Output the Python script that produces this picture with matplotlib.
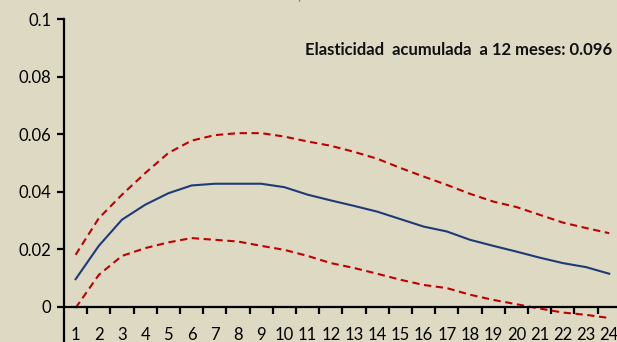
import matplotlib
matplotlib.use("Agg")
import matplotlib.pyplot as plt
import numpy as np

months = list(range(1, 25))
central = [0.0095, 0.0211, 0.0302, 0.0354, 0.0394, 0.0421, 0.0427, 0.0427, 0.0427, 0.0415,
           0.0389, 0.0369, 0.0350, 0.0330, 0.0304, 0.0278, 0.0261, 0.0232, 0.0211, 0.0191,
           0.0170, 0.0151, 0.0137, 0.0114]
upper = [0.0180, 0.0307, 0.0389, 0.0464, 0.0534, 0.0577, 0.0596, 0.0603, 0.0603, 0.0591,
         0.0574, 0.0559, 0.0538, 0.0514, 0.0482, 0.0452, 0.0423, 0.0392, 0.0365, 0.0346,
         0.0319, 0.0292, 0.0273, 0.0255]
lower = [-0.0005, 0.0110, 0.0176, 0.0203, 0.0223, 0.0238, 0.0232, 0.0226, 0.0211, 0.0197,
         0.0176, 0.0151, 0.0134, 0.0114, 0.0093, 0.0075, 0.0064, 0.0041, 0.0023, 0.0008,
         -0.0007, -0.0021, -0.0029, -0.0040]
yticks = [0, 0.02, 0.04, 0.06, 0.08, 0.1]
ytick_labels = ["0", "0.02", "0.04", "0.06", "0.08", "0.1"]
annotation = "Elasticidad  acumulada  a 12 meses: 0.096"

bg = "#DDD9C3"
plt.rcParams['font.family'] = ['Lato', 'DejaVu Sans']

fig = plt.figure(figsize=(6.17, 3.42), dpi=100, facecolor=bg)
W, H = 617, 342
left_px = 64
cat_w = 23.2
y_top_px = 19
px_per_unit = 57.5 / 0.02
ymin, ymax = -0.02, 0.1
ax_h_px = (ymax - ymin) * px_per_unit
ax = fig.add_axes([left_px / W, (H - y_top_px - ax_h_px) / H, 24 * cat_w / W, ax_h_px / H])
ax.set_facecolor(bg)
ax.set_xlim(0.5, 24.5)
ax.set_ylim(ymin, ymax)

ax.plot(months, central, color="#1F3A78", lw=1.5, clip_on=False)
ax.plot(months, upper, color="#C00000", lw=1.5, dashes=(3.5, 2.2), clip_on=False)
ax.plot(months, lower, color="#C00000", lw=1.5, dashes=(3.5, 2.2), clip_on=False)

for s in ["top", "right"]:
    ax.spines[s].set_visible(False)
ax.spines["bottom"].set_position(("data", 0))
ax.spines["bottom"].set_linewidth(1.6)
ax.spines["left"].set_linewidth(1.6)

ax.set_yticks(yticks)
ax.set_yticklabels(ytick_labels)
ax.tick_params(axis="y", direction="out", length=5, width=1.6, labelsize=12, pad=4, colors="black")

ax.set_xticks(np.arange(1.5, 24.5, 1.0))
ax.set_xticklabels([])
ax.tick_params(axis="x", which="major", direction="out", length=5, width=1.6)
ax.set_xticks(months, minor=True)
ax.set_xticklabels([str(m) for m in months], minor=True)
ax.tick_params(axis="x", which="minor", length=0, labelsize=12, pad=15)

ax.text(612 / W, (H - 50) / H, annotation, transform=fig.transFigure, ha="right", va="center",
        fontsize=12, fontweight="bold", color="#111111")
fig.text(299 / W, 1.0, ",", ha="center", va="baseline", fontsize=10, color="#222222")

fig.savefig("out.png", dpi=100, facecolor=bg)
